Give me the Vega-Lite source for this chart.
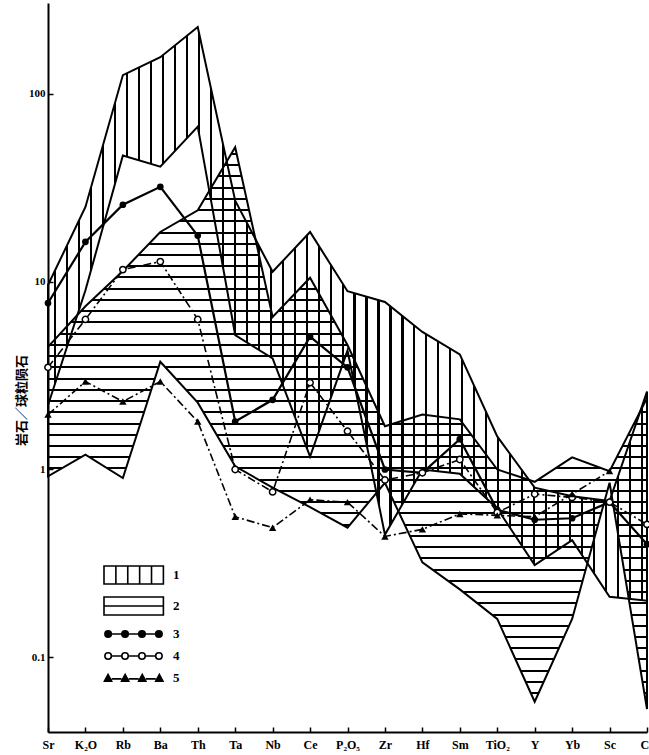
{
  "$schema": "https://vega.github.io/schema/vega-lite/v6.json",
  "autosize": {"type": "none"},
  "width": 599,
  "height": 729,
  "padding": {"left": 48, "top": 3, "right": 2, "bottom": 23},
  "background": "white",
  "datasets": {
    "fields": [
      {"el": "Sr", "f": "1", "v": 9.6, "lo": 2.2},
      {"el": "K₂O", "f": "1", "v": 25, "lo": 9},
      {"el": "Rb", "f": "1", "v": 126, "lo": 47},
      {"el": "Ba", "f": "1", "v": 157, "lo": 41},
      {"el": "Th", "f": "1", "v": 227, "lo": 67},
      {"el": "Ta", "f": "1", "v": 27, "lo": 5.2},
      {"el": "Nb", "f": "1", "v": 11.3, "lo": 3.9},
      {"el": "Ce", "f": "1", "v": 18.4, "lo": 1.17},
      {"el": "P₂O₅", "f": "1", "v": 8.9, "lo": 4.3},
      {"el": "Zr", "f": "1", "v": 7.8, "lo": 0.45},
      {"el": "Hf", "f": "1", "v": 5.4, "lo": 1.0},
      {"el": "Sm", "f": "1", "v": 4.1, "lo": 0.95},
      {"el": "TiO₂", "f": "1", "v": 1.5, "lo": 0.62},
      {"el": "Y", "f": "1", "v": 0.8, "lo": 0.31},
      {"el": "Yb", "f": "1", "v": 0.72, "lo": 0.42},
      {"el": "Sc", "f": "1", "v": 0.68, "lo": 0.21},
      {"el": "Cr", "f": "1", "v": 2.6, "lo": 0.2},
      {"el": "Sr", "f": "2", "v": 4.5, "lo": 0.92},
      {"el": "K₂O", "f": "2", "v": 7.4, "lo": 1.2},
      {"el": "Rb", "f": "2", "v": 11.4, "lo": 0.9},
      {"el": "Ba", "f": "2", "v": 18.4, "lo": 3.75},
      {"el": "Th", "f": "2", "v": 24, "lo": 2.27},
      {"el": "Ta", "f": "2", "v": 52, "lo": 1.04},
      {"el": "Nb", "f": "2", "v": 6.5, "lo": 0.8},
      {"el": "Ce", "f": "2", "v": 10.5, "lo": 0.63},
      {"el": "P₂O₅", "f": "2", "v": 4.6, "lo": 0.49},
      {"el": "Zr", "f": "2", "v": 1.7, "lo": 0.85},
      {"el": "Hf", "f": "2", "v": 1.96, "lo": 0.32},
      {"el": "Sm", "f": "2", "v": 1.85, "lo": 0.23},
      {"el": "TiO₂", "f": "2", "v": 1.0, "lo": 0.16},
      {"el": "Y", "f": "2", "v": 0.86, "lo": 0.058},
      {"el": "Yb", "f": "2", "v": 1.16, "lo": 0.16},
      {"el": "Sc", "f": "2", "v": 0.98, "lo": 0.85},
      {"el": "Cr", "f": "2", "v": 2.4, "lo": 0.053}
    ],
    "lines": [
      {"el": "Sr", "s": "3", "v": 7.7},
      {"el": "K₂O", "s": "3", "v": 16.3},
      {"el": "Rb", "s": "3", "v": 25.7},
      {"el": "Ba", "s": "3", "v": 32},
      {"el": "Th", "s": "3", "v": 17.6},
      {"el": "Ta", "s": "3", "v": 1.8},
      {"el": "Nb", "s": "3", "v": 2.35},
      {"el": "Ce", "s": "3", "v": 5.1},
      {"el": "P₂O₅", "s": "3", "v": 3.5},
      {"el": "Zr", "s": "3", "v": 1.0},
      {"el": "Hf", "s": "3", "v": 0.96},
      {"el": "Sm", "s": "3", "v": 1.45},
      {"el": "TiO₂", "s": "3", "v": 0.61},
      {"el": "Y", "s": "3", "v": 0.54},
      {"el": "Yb", "s": "3", "v": 0.55},
      {"el": "Sc", "s": "3", "v": 0.67},
      {"el": "Cr", "s": "3", "v": 0.4},
      {"el": "Sr", "s": "4", "v": 3.5},
      {"el": "K₂O", "s": "4", "v": 6.3},
      {"el": "Rb", "s": "4", "v": 11.6},
      {"el": "Ba", "s": "4", "v": 12.8},
      {"el": "Th", "s": "4", "v": 6.3},
      {"el": "Ta", "s": "4", "v": 1.0},
      {"el": "Nb", "s": "4", "v": 0.76},
      {"el": "Ce", "s": "4", "v": 2.9},
      {"el": "P₂O₅", "s": "4", "v": 1.6},
      {"el": "Zr", "s": "4", "v": 0.88},
      {"el": "Hf", "s": "4", "v": 0.96},
      {"el": "Sm", "s": "4", "v": 1.13},
      {"el": "TiO₂", "s": "4", "v": 0.59},
      {"el": "Y", "s": "4", "v": 0.74},
      {"el": "Yb", "s": "4", "v": 0.71},
      {"el": "Sc", "s": "4", "v": 0.67},
      {"el": "Cr", "s": "4", "v": 0.51},
      {"el": "Sr", "s": "5", "v": 1.96},
      {"el": "K₂O", "s": "5", "v": 2.94},
      {"el": "Rb", "s": "5", "v": 2.3},
      {"el": "Ba", "s": "5", "v": 2.94},
      {"el": "Th", "s": "5", "v": 1.8},
      {"el": "Ta", "s": "5", "v": 0.56},
      {"el": "Nb", "s": "5", "v": 0.49},
      {"el": "Ce", "s": "5", "v": 0.69},
      {"el": "P₂O₅", "s": "5", "v": 0.67},
      {"el": "Zr", "s": "5", "v": 0.44},
      {"el": "Hf", "s": "5", "v": 0.48},
      {"el": "Sm", "s": "5", "v": 0.58},
      {"el": "TiO₂", "s": "5", "v": 0.57},
      {"el": "Y", "s": "5", "v": 0.56},
      {"el": "Yb", "s": "5", "v": 0.74},
      {"el": "Sc", "s": "5", "v": 0.98}
    ]
  },
  "encoding": {
    "x": {
      "field": "el", "type": "nominal",
      "scale": {"type": "point", "padding": 0, "domain": ["Sr", "K₂O", "Rb", "Ba", "Th", "Ta", "Nb", "Ce", "P₂O₅", "Zr", "Hf", "Sm", "TiO₂", "Y", "Yb", "Sc", "Cr"]},
      "axis": {"title": null, "labelAngle": 0, "labelFontSize": 12, "labelPadding": 12, "labelOverlap": false, "labelBound": false, "labelFlush": false}
    },
    "y": {
      "field": "v", "type": "quantitative",
      "scale": {"type": "log", "domain": [0.04, 305], "nice": false},
      "axis": {"title": "岩石／球粒陨石", "values": [0.1, 1, 10, 100], "format": "~g", "labelFontSize": 11, "labelPadding": 8, "titleFont": "Noto Sans CJK SC", "titleFontSize": 13, "titleFontWeight": "bold", "titleX": -27, "titleY": 397, "titleAngle": -90, "titleAlign": "center", "titleBaseline": "middle"}
    }
  },
  "layer": [
    {
      "data": {"name": "fields"},
      "transform": [{"filter": "datum.f == '1'"}],
      "mark": {"type": "area", "stroke": "black", "strokeWidth": 2, "strokeJoin": "miter",
        "fill": {"gradient": "linear", "x1": 0, "y1": 0, "x2": 1, "y2": 0, "stops": [
          {"offset":0,"color":"#0000"},
          {"offset":0.01,"color":"#0000"},{"offset":0.01,"color":"#000"},{"offset":0.0135,"color":"#000"},{"offset":0.0135,"color":"#0000"},
          {"offset":0.03,"color":"#0000"},{"offset":0.03,"color":"#000"},{"offset":0.0335,"color":"#000"},{"offset":0.0335,"color":"#0000"},
          {"offset":0.05,"color":"#0000"},{"offset":0.05,"color":"#000"},{"offset":0.0535,"color":"#000"},{"offset":0.0535,"color":"#0000"},
          {"offset":0.07,"color":"#0000"},{"offset":0.07,"color":"#000"},{"offset":0.0735,"color":"#000"},{"offset":0.0735,"color":"#0000"},
          {"offset":0.09,"color":"#0000"},{"offset":0.09,"color":"#000"},{"offset":0.0935,"color":"#000"},{"offset":0.0935,"color":"#0000"},
          {"offset":0.11,"color":"#0000"},{"offset":0.11,"color":"#000"},{"offset":0.1135,"color":"#000"},{"offset":0.1135,"color":"#0000"},
          {"offset":0.13,"color":"#0000"},{"offset":0.13,"color":"#000"},{"offset":0.1335,"color":"#000"},{"offset":0.1335,"color":"#0000"},
          {"offset":0.15,"color":"#0000"},{"offset":0.15,"color":"#000"},{"offset":0.1535,"color":"#000"},{"offset":0.1535,"color":"#0000"},
          {"offset":0.17,"color":"#0000"},{"offset":0.17,"color":"#000"},{"offset":0.1735,"color":"#000"},{"offset":0.1735,"color":"#0000"},
          {"offset":0.19,"color":"#0000"},{"offset":0.19,"color":"#000"},{"offset":0.1935,"color":"#000"},{"offset":0.1935,"color":"#0000"},
          {"offset":0.21,"color":"#0000"},{"offset":0.21,"color":"#000"},{"offset":0.2135,"color":"#000"},{"offset":0.2135,"color":"#0000"},
          {"offset":0.23,"color":"#0000"},{"offset":0.23,"color":"#000"},{"offset":0.2335,"color":"#000"},{"offset":0.2335,"color":"#0000"},
          {"offset":0.25,"color":"#0000"},{"offset":0.25,"color":"#000"},{"offset":0.2535,"color":"#000"},{"offset":0.2535,"color":"#0000"},
          {"offset":0.27,"color":"#0000"},{"offset":0.27,"color":"#000"},{"offset":0.2735,"color":"#000"},{"offset":0.2735,"color":"#0000"},
          {"offset":0.29,"color":"#0000"},{"offset":0.29,"color":"#000"},{"offset":0.2935,"color":"#000"},{"offset":0.2935,"color":"#0000"},
          {"offset":0.31,"color":"#0000"},{"offset":0.31,"color":"#000"},{"offset":0.3135,"color":"#000"},{"offset":0.3135,"color":"#0000"},
          {"offset":0.33,"color":"#0000"},{"offset":0.33,"color":"#000"},{"offset":0.3335,"color":"#000"},{"offset":0.3335,"color":"#0000"},
          {"offset":0.35,"color":"#0000"},{"offset":0.35,"color":"#000"},{"offset":0.3535,"color":"#000"},{"offset":0.3535,"color":"#0000"},
          {"offset":0.37,"color":"#0000"},{"offset":0.37,"color":"#000"},{"offset":0.3735,"color":"#000"},{"offset":0.3735,"color":"#0000"},
          {"offset":0.39,"color":"#0000"},{"offset":0.39,"color":"#000"},{"offset":0.3935,"color":"#000"},{"offset":0.3935,"color":"#0000"},
          {"offset":0.41,"color":"#0000"},{"offset":0.41,"color":"#000"},{"offset":0.4135,"color":"#000"},{"offset":0.4135,"color":"#0000"},
          {"offset":0.43,"color":"#0000"},{"offset":0.43,"color":"#000"},{"offset":0.4335,"color":"#000"},{"offset":0.4335,"color":"#0000"},
          {"offset":0.45,"color":"#0000"},{"offset":0.45,"color":"#000"},{"offset":0.4535,"color":"#000"},{"offset":0.4535,"color":"#0000"},
          {"offset":0.47,"color":"#0000"},{"offset":0.47,"color":"#000"},{"offset":0.4735,"color":"#000"},{"offset":0.4735,"color":"#0000"},
          {"offset":0.49,"color":"#0000"},{"offset":0.49,"color":"#000"},{"offset":0.4935,"color":"#000"},{"offset":0.4935,"color":"#0000"},
          {"offset":0.51,"color":"#0000"},{"offset":0.51,"color":"#000"},{"offset":0.5135,"color":"#000"},{"offset":0.5135,"color":"#0000"},
          {"offset":0.53,"color":"#0000"},{"offset":0.53,"color":"#000"},{"offset":0.5335,"color":"#000"},{"offset":0.5335,"color":"#0000"},
          {"offset":0.55,"color":"#0000"},{"offset":0.55,"color":"#000"},{"offset":0.5535,"color":"#000"},{"offset":0.5535,"color":"#0000"},
          {"offset":0.57,"color":"#0000"},{"offset":0.57,"color":"#000"},{"offset":0.5735,"color":"#000"},{"offset":0.5735,"color":"#0000"},
          {"offset":0.59,"color":"#0000"},{"offset":0.59,"color":"#000"},{"offset":0.5935,"color":"#000"},{"offset":0.5935,"color":"#0000"},
          {"offset":0.61,"color":"#0000"},{"offset":0.61,"color":"#000"},{"offset":0.6135,"color":"#000"},{"offset":0.6135,"color":"#0000"},
          {"offset":0.63,"color":"#0000"},{"offset":0.63,"color":"#000"},{"offset":0.6335,"color":"#000"},{"offset":0.6335,"color":"#0000"},
          {"offset":0.65,"color":"#0000"},{"offset":0.65,"color":"#000"},{"offset":0.6535,"color":"#000"},{"offset":0.6535,"color":"#0000"},
          {"offset":0.67,"color":"#0000"},{"offset":0.67,"color":"#000"},{"offset":0.6735,"color":"#000"},{"offset":0.6735,"color":"#0000"},
          {"offset":0.69,"color":"#0000"},{"offset":0.69,"color":"#000"},{"offset":0.6935,"color":"#000"},{"offset":0.6935,"color":"#0000"},
          {"offset":0.71,"color":"#0000"},{"offset":0.71,"color":"#000"},{"offset":0.7135,"color":"#000"},{"offset":0.7135,"color":"#0000"},
          {"offset":0.73,"color":"#0000"},{"offset":0.73,"color":"#000"},{"offset":0.7335,"color":"#000"},{"offset":0.7335,"color":"#0000"},
          {"offset":0.75,"color":"#0000"},{"offset":0.75,"color":"#000"},{"offset":0.7535,"color":"#000"},{"offset":0.7535,"color":"#0000"},
          {"offset":0.77,"color":"#0000"},{"offset":0.77,"color":"#000"},{"offset":0.7735,"color":"#000"},{"offset":0.7735,"color":"#0000"},
          {"offset":0.79,"color":"#0000"},{"offset":0.79,"color":"#000"},{"offset":0.7935,"color":"#000"},{"offset":0.7935,"color":"#0000"},
          {"offset":0.81,"color":"#0000"},{"offset":0.81,"color":"#000"},{"offset":0.8135,"color":"#000"},{"offset":0.8135,"color":"#0000"},
          {"offset":0.83,"color":"#0000"},{"offset":0.83,"color":"#000"},{"offset":0.8335,"color":"#000"},{"offset":0.8335,"color":"#0000"},
          {"offset":0.85,"color":"#0000"},{"offset":0.85,"color":"#000"},{"offset":0.8535,"color":"#000"},{"offset":0.8535,"color":"#0000"},
          {"offset":0.87,"color":"#0000"},{"offset":0.87,"color":"#000"},{"offset":0.8735,"color":"#000"},{"offset":0.8735,"color":"#0000"},
          {"offset":0.89,"color":"#0000"},{"offset":0.89,"color":"#000"},{"offset":0.8935,"color":"#000"},{"offset":0.8935,"color":"#0000"},
          {"offset":0.91,"color":"#0000"},{"offset":0.91,"color":"#000"},{"offset":0.9135,"color":"#000"},{"offset":0.9135,"color":"#0000"},
          {"offset":0.93,"color":"#0000"},{"offset":0.93,"color":"#000"},{"offset":0.9335,"color":"#000"},{"offset":0.9335,"color":"#0000"},
          {"offset":0.95,"color":"#0000"},{"offset":0.95,"color":"#000"},{"offset":0.9535,"color":"#000"},{"offset":0.9535,"color":"#0000"},
          {"offset":0.97,"color":"#0000"},{"offset":0.97,"color":"#000"},{"offset":0.9735,"color":"#000"},{"offset":0.9735,"color":"#0000"},
          {"offset":0.99,"color":"#0000"},{"offset":0.99,"color":"#000"},{"offset":0.9935,"color":"#000"},{"offset":0.9935,"color":"#0000"},
          {"offset":1,"color":"#0000"}
        ]}
      },
      "encoding": {"y2": {"field": "lo"}}
    },
    {
      "data": {"name": "fields"},
      "transform": [{"filter": "datum.f == '2'"}],
      "mark": {"type": "area", "stroke": "black", "strokeWidth": 2, "strokeJoin": "miter",
        "fill": {"gradient": "linear", "x1": 0, "y1": 0, "x2": 0, "y2": 1, "stops": [
          {"offset":0,"color":"#0000"},
          {"offset":0.01,"color":"#0000"},{"offset":0.01,"color":"#000"},{"offset":0.0135,"color":"#000"},{"offset":0.0135,"color":"#0000"},
          {"offset":0.03,"color":"#0000"},{"offset":0.03,"color":"#000"},{"offset":0.0335,"color":"#000"},{"offset":0.0335,"color":"#0000"},
          {"offset":0.05,"color":"#0000"},{"offset":0.05,"color":"#000"},{"offset":0.0535,"color":"#000"},{"offset":0.0535,"color":"#0000"},
          {"offset":0.07,"color":"#0000"},{"offset":0.07,"color":"#000"},{"offset":0.0735,"color":"#000"},{"offset":0.0735,"color":"#0000"},
          {"offset":0.09,"color":"#0000"},{"offset":0.09,"color":"#000"},{"offset":0.0935,"color":"#000"},{"offset":0.0935,"color":"#0000"},
          {"offset":0.11,"color":"#0000"},{"offset":0.11,"color":"#000"},{"offset":0.1135,"color":"#000"},{"offset":0.1135,"color":"#0000"},
          {"offset":0.13,"color":"#0000"},{"offset":0.13,"color":"#000"},{"offset":0.1335,"color":"#000"},{"offset":0.1335,"color":"#0000"},
          {"offset":0.15,"color":"#0000"},{"offset":0.15,"color":"#000"},{"offset":0.1535,"color":"#000"},{"offset":0.1535,"color":"#0000"},
          {"offset":0.17,"color":"#0000"},{"offset":0.17,"color":"#000"},{"offset":0.1735,"color":"#000"},{"offset":0.1735,"color":"#0000"},
          {"offset":0.19,"color":"#0000"},{"offset":0.19,"color":"#000"},{"offset":0.1935,"color":"#000"},{"offset":0.1935,"color":"#0000"},
          {"offset":0.21,"color":"#0000"},{"offset":0.21,"color":"#000"},{"offset":0.2135,"color":"#000"},{"offset":0.2135,"color":"#0000"},
          {"offset":0.23,"color":"#0000"},{"offset":0.23,"color":"#000"},{"offset":0.2335,"color":"#000"},{"offset":0.2335,"color":"#0000"},
          {"offset":0.25,"color":"#0000"},{"offset":0.25,"color":"#000"},{"offset":0.2535,"color":"#000"},{"offset":0.2535,"color":"#0000"},
          {"offset":0.27,"color":"#0000"},{"offset":0.27,"color":"#000"},{"offset":0.2735,"color":"#000"},{"offset":0.2735,"color":"#0000"},
          {"offset":0.29,"color":"#0000"},{"offset":0.29,"color":"#000"},{"offset":0.2935,"color":"#000"},{"offset":0.2935,"color":"#0000"},
          {"offset":0.31,"color":"#0000"},{"offset":0.31,"color":"#000"},{"offset":0.3135,"color":"#000"},{"offset":0.3135,"color":"#0000"},
          {"offset":0.33,"color":"#0000"},{"offset":0.33,"color":"#000"},{"offset":0.3335,"color":"#000"},{"offset":0.3335,"color":"#0000"},
          {"offset":0.35,"color":"#0000"},{"offset":0.35,"color":"#000"},{"offset":0.3535,"color":"#000"},{"offset":0.3535,"color":"#0000"},
          {"offset":0.37,"color":"#0000"},{"offset":0.37,"color":"#000"},{"offset":0.3735,"color":"#000"},{"offset":0.3735,"color":"#0000"},
          {"offset":0.39,"color":"#0000"},{"offset":0.39,"color":"#000"},{"offset":0.3935,"color":"#000"},{"offset":0.3935,"color":"#0000"},
          {"offset":0.41,"color":"#0000"},{"offset":0.41,"color":"#000"},{"offset":0.4135,"color":"#000"},{"offset":0.4135,"color":"#0000"},
          {"offset":0.43,"color":"#0000"},{"offset":0.43,"color":"#000"},{"offset":0.4335,"color":"#000"},{"offset":0.4335,"color":"#0000"},
          {"offset":0.45,"color":"#0000"},{"offset":0.45,"color":"#000"},{"offset":0.4535,"color":"#000"},{"offset":0.4535,"color":"#0000"},
          {"offset":0.47,"color":"#0000"},{"offset":0.47,"color":"#000"},{"offset":0.4735,"color":"#000"},{"offset":0.4735,"color":"#0000"},
          {"offset":0.49,"color":"#0000"},{"offset":0.49,"color":"#000"},{"offset":0.4935,"color":"#000"},{"offset":0.4935,"color":"#0000"},
          {"offset":0.51,"color":"#0000"},{"offset":0.51,"color":"#000"},{"offset":0.5135,"color":"#000"},{"offset":0.5135,"color":"#0000"},
          {"offset":0.53,"color":"#0000"},{"offset":0.53,"color":"#000"},{"offset":0.5335,"color":"#000"},{"offset":0.5335,"color":"#0000"},
          {"offset":0.55,"color":"#0000"},{"offset":0.55,"color":"#000"},{"offset":0.5535,"color":"#000"},{"offset":0.5535,"color":"#0000"},
          {"offset":0.57,"color":"#0000"},{"offset":0.57,"color":"#000"},{"offset":0.5735,"color":"#000"},{"offset":0.5735,"color":"#0000"},
          {"offset":0.59,"color":"#0000"},{"offset":0.59,"color":"#000"},{"offset":0.5935,"color":"#000"},{"offset":0.5935,"color":"#0000"},
          {"offset":0.61,"color":"#0000"},{"offset":0.61,"color":"#000"},{"offset":0.6135,"color":"#000"},{"offset":0.6135,"color":"#0000"},
          {"offset":0.63,"color":"#0000"},{"offset":0.63,"color":"#000"},{"offset":0.6335,"color":"#000"},{"offset":0.6335,"color":"#0000"},
          {"offset":0.65,"color":"#0000"},{"offset":0.65,"color":"#000"},{"offset":0.6535,"color":"#000"},{"offset":0.6535,"color":"#0000"},
          {"offset":0.67,"color":"#0000"},{"offset":0.67,"color":"#000"},{"offset":0.6735,"color":"#000"},{"offset":0.6735,"color":"#0000"},
          {"offset":0.69,"color":"#0000"},{"offset":0.69,"color":"#000"},{"offset":0.6935,"color":"#000"},{"offset":0.6935,"color":"#0000"},
          {"offset":0.71,"color":"#0000"},{"offset":0.71,"color":"#000"},{"offset":0.7135,"color":"#000"},{"offset":0.7135,"color":"#0000"},
          {"offset":0.73,"color":"#0000"},{"offset":0.73,"color":"#000"},{"offset":0.7335,"color":"#000"},{"offset":0.7335,"color":"#0000"},
          {"offset":0.75,"color":"#0000"},{"offset":0.75,"color":"#000"},{"offset":0.7535,"color":"#000"},{"offset":0.7535,"color":"#0000"},
          {"offset":0.77,"color":"#0000"},{"offset":0.77,"color":"#000"},{"offset":0.7735,"color":"#000"},{"offset":0.7735,"color":"#0000"},
          {"offset":0.79,"color":"#0000"},{"offset":0.79,"color":"#000"},{"offset":0.7935,"color":"#000"},{"offset":0.7935,"color":"#0000"},
          {"offset":0.81,"color":"#0000"},{"offset":0.81,"color":"#000"},{"offset":0.8135,"color":"#000"},{"offset":0.8135,"color":"#0000"},
          {"offset":0.83,"color":"#0000"},{"offset":0.83,"color":"#000"},{"offset":0.8335,"color":"#000"},{"offset":0.8335,"color":"#0000"},
          {"offset":0.85,"color":"#0000"},{"offset":0.85,"color":"#000"},{"offset":0.8535,"color":"#000"},{"offset":0.8535,"color":"#0000"},
          {"offset":0.87,"color":"#0000"},{"offset":0.87,"color":"#000"},{"offset":0.8735,"color":"#000"},{"offset":0.8735,"color":"#0000"},
          {"offset":0.89,"color":"#0000"},{"offset":0.89,"color":"#000"},{"offset":0.8935,"color":"#000"},{"offset":0.8935,"color":"#0000"},
          {"offset":0.91,"color":"#0000"},{"offset":0.91,"color":"#000"},{"offset":0.9135,"color":"#000"},{"offset":0.9135,"color":"#0000"},
          {"offset":0.93,"color":"#0000"},{"offset":0.93,"color":"#000"},{"offset":0.9335,"color":"#000"},{"offset":0.9335,"color":"#0000"},
          {"offset":0.95,"color":"#0000"},{"offset":0.95,"color":"#000"},{"offset":0.9535,"color":"#000"},{"offset":0.9535,"color":"#0000"},
          {"offset":0.97,"color":"#0000"},{"offset":0.97,"color":"#000"},{"offset":0.9735,"color":"#000"},{"offset":0.9735,"color":"#0000"},
          {"offset":0.99,"color":"#0000"},{"offset":0.99,"color":"#000"},{"offset":0.9935,"color":"#000"},{"offset":0.9935,"color":"#0000"},
          {"offset":1,"color":"#0000"}
        ]}
      },
      "encoding": {"y2": {"field": "lo"}}
    },
    {
      "data": {"name": "lines"},
      "transform": [{"filter": "datum.s == '3'"}],
      "mark": {"type": "line", "color": "black", "strokeWidth": 2.2}
    },
    {
      "data": {"name": "lines"},
      "transform": [{"filter": "datum.s == '4'"}],
      "mark": {"type": "line", "color": "black", "strokeWidth": 1.6, "strokeDash": [8, 3, 2, 3]}
    },
    {
      "data": {"name": "lines"},
      "transform": [{"filter": "datum.s == '5'"}],
      "mark": {"type": "line", "color": "black", "strokeWidth": 1.6, "strokeDash": [8, 3, 2, 3]}
    },
    {
      "data": {"name": "lines"},
      "transform": [{"filter": "datum.s == '3'"}],
      "mark": {"type": "point", "shape": "circle", "filled": true, "color": "black", "size": 45, "opacity": 1}
    },
    {
      "data": {"name": "lines"},
      "transform": [{"filter": "datum.s == '4'"}],
      "mark": {"type": "point", "shape": "circle", "fill": "white", "stroke": "black", "strokeWidth": 1.5, "size": 40, "opacity": 1}
    },
    {
      "data": {"name": "lines"},
      "transform": [{"filter": "datum.s == '5'"}],
      "mark": {"type": "point", "shape": "triangle-up", "filled": true, "color": "black", "size": 55, "opacity": 1}
    },
    {
      "data": {"name": "lines"},
      "transform": [{"filter": "false"}],
      "mark": {"type": "point", "stroke": "black", "strokeWidth": 1.6, "opacity": 1},
      "encoding": {
        "shape": {
          "field": "s", "type": "nominal",
          "scale": {"domain": ["1", "2", "3", "4", "5"], "range": [
            "M-1,-1H5.6V1H-1Z M0.32,-1V1 M1.64,-1V1 M2.96,-1V1 M4.28,-1V1",
            "M-1,-1H5.6V1H-1Z M-1,0H5.6",
            "M-0.9,0a0.36,0.36 0 1,0 0.72,0a0.36,0.36 0 1,0 -0.72,0 M0.98,0a0.36,0.36 0 1,0 0.72,0a0.36,0.36 0 1,0 -0.72,0 M2.86,0a0.36,0.36 0 1,0 0.72,0a0.36,0.36 0 1,0 -0.72,0 M4.74,0a0.36,0.36 0 1,0 0.72,0a0.36,0.36 0 1,0 -0.72,0 M-0.18,0H0.98 M1.7,0H2.86 M3.58,0H4.74",
            "M-0.9,0a0.36,0.36 0 1,0 0.72,0a0.36,0.36 0 1,0 -0.72,0 M0.98,0a0.36,0.36 0 1,0 0.72,0a0.36,0.36 0 1,0 -0.72,0 M2.86,0a0.36,0.36 0 1,0 0.72,0a0.36,0.36 0 1,0 -0.72,0 M4.74,0a0.36,0.36 0 1,0 0.72,0a0.36,0.36 0 1,0 -0.72,0 M-0.18,0H0.98 M1.7,0H2.86 M3.58,0H4.74",
            "M-0.95,0.35L-0.55,-0.4L-0.15,0.35Z M0.95,0.35L1.35,-0.4L1.75,0.35Z M2.85,0.35L3.25,-0.4L3.65,0.35Z M4.75,0.35L5.15,-0.4L5.55,0.35Z M-0.15,0.1H0.95 M1.75,0.1H2.85 M3.65,0.1H4.75"
          ]},
          "legend": {"title": null, "orient": "none", "legendX": 55, "legendY": 562, "symbolStrokeColor": "black", "symbolStrokeWidth": 1.6,
            "encode": {"symbols": {"update": {"stroke": {"value": "black"}, "strokeWidth": {"value": 1.6}, "opacity": {"value": 1}}}}}
        },
        "fill": {
          "field": "s", "type": "nominal",
          "scale": {"domain": ["1", "2", "3", "4", "5"], "range": ["transparent", "transparent", "black", "white", "black"]},
          "legend": {"title": null, "orient": "none", "legendX": 55, "legendY": 562, "symbolStrokeColor": "black", "symbolStrokeWidth": 1.6,
            "encode": {"symbols": {"update": {"stroke": {"value": "black"}, "strokeWidth": {"value": 1.6}, "opacity": {"value": 1}}}}}
        }
      }
    }
  ],
  "config": {
    "view": {"stroke": null},
    "axis": {
      "domainColor": "black", "domainWidth": 2, "tickColor": "black", "tickWidth": 1.5, "tickSize": -5,
      "labelColor": "black", "labelFont": "Liberation Serif", "labelFontWeight": "bold", "grid": false, "titleColor": "black"
    },
    "legend": {
      "padding": 0, "symbolSize": 324, "labelOffset": 50, "rowPadding": 5,
      "labelFont": "Liberation Serif", "labelFontWeight": "bold", "labelFontSize": 13, "labelColor": "black",
      "symbolStrokeColor": "black", "symbolStrokeWidth": 1.6, "symbolOpacity": 1
    }
  }
}
